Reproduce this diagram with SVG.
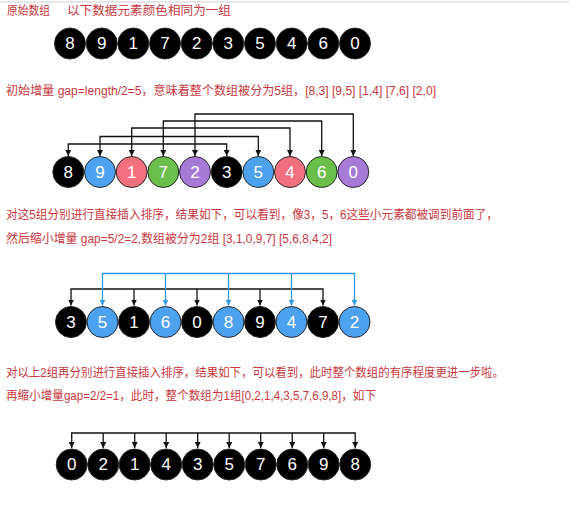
<svg xmlns="http://www.w3.org/2000/svg" width="569" height="507" viewBox="0 0 569 507">
<style>
.t{font-family:"Liberation Sans","Noto Sans CJK SC",sans-serif;font-size:12px;fill:#c7373d}
.n circle{stroke:#2a2a2a;stroke-width:1}
.n text{font-family:"Liberation Sans",Arial,sans-serif;font-size:17px;fill:#fff;text-anchor:middle;dominant-baseline:central}
.k{fill:#000}.b{fill:#4da2f0}.p{fill:#f0707f}.g{fill:#6abf4b}.v{fill:#a67bd8}
.c{fill:none;stroke:#111;stroke-width:1.3}
.cb{fill:none;stroke:#2f9be8;stroke-width:1.3}
</style>
<defs>
<marker id="ah" viewBox="0 0 10 10" refX="10" refY="5" markerWidth="6" markerHeight="6" orient="auto-start-reverse" markerUnits="userSpaceOnUse"><path d="M0,0 L10,5 L0,10 z" fill="#111"/></marker>
<marker id="ahb" viewBox="0 0 10 10" refX="10" refY="5" markerWidth="6" markerHeight="6" orient="auto-start-reverse" markerUnits="userSpaceOnUse"><path d="M0,0 L10,5 L0,10 z" fill="#2f9be8"/></marker>
</defs>
<rect width="569" height="507" fill="#fff"/>
<line x1="0" y1="2" x2="569" y2="2" stroke="#e6e6e6" stroke-width="2"/>
<g id="texts">
<text class="t" x="7" y="15" textLength="43" lengthAdjust="spacingAndGlyphs">原始数组</text>
<text class="t" x="67" y="15" textLength="164" lengthAdjust="spacingAndGlyphs">以下数据元素颜色相同为一组</text>
<text class="t" x="6" y="95" textLength="430" lengthAdjust="spacingAndGlyphs">初始增量 gap=length/2=5，意味着整个数组被分为5组，[8,3] [9,5] [1,4] [7,6] [2,0]</text>
<text class="t" x="6" y="219" textLength="492" lengthAdjust="spacingAndGlyphs">对这5组分别进行直接插入排序，结果如下，可以看到，像3，5，6这些小元素都被调到前面了，</text>
<text class="t" x="6" y="243" textLength="326" lengthAdjust="spacingAndGlyphs">然后缩小增量 gap=5/2=2,数组被分为2组 [3,1,0,9,7] [5,6,8,4,2]</text>
<text class="t" x="6" y="377" textLength="498" lengthAdjust="spacingAndGlyphs">对以上2组再分别进行直接插入排序，结果如下，可以看到，此时整个数组的有序程度更进一步啦。</text>
<text class="t" x="6" y="400" textLength="370" lengthAdjust="spacingAndGlyphs">再缩小增量gap=2/2=1，此时，整个数组为1组[0,2,1,4,3,5,7,6,9,8]，如下</text>
</g>
<g id="connectors">
<path class="c" d="M68.3,156 V144 H226.7 V156" marker-start="url(#ah)" marker-end="url(#ah)"/>
<path class="c" d="M100,156 V136.5 H258.3 V156" marker-start="url(#ah)" marker-end="url(#ah)"/>
<path class="c" d="M131.7,156 V128 H290 V156" marker-start="url(#ah)" marker-end="url(#ah)"/>
<path class="c" d="M163.3,156 V121 H321.7 V156" marker-start="url(#ah)" marker-end="url(#ah)"/>
<path class="c" d="M195,156 V114 H353.3 V156" marker-start="url(#ah)" marker-end="url(#ah)"/>
<path class="c" d="M71,305.5 V289 H323 V305.5" marker-start="url(#ah)" marker-end="url(#ah)"/>
<path class="c" d="M134,289 V305.5" marker-end="url(#ah)"/>
<path class="c" d="M197,289 V305.5" marker-end="url(#ah)"/>
<path class="c" d="M260,289 V305.5" marker-end="url(#ah)"/>
<path class="cb" d="M102.5,305.5 V273.5 H354.5 V305.5" marker-start="url(#ahb)" marker-end="url(#ahb)"/>
<path class="cb" d="M165.5,273.5 V305.5" marker-end="url(#ahb)"/>
<path class="cb" d="M228.5,273.5 V305.5" marker-end="url(#ahb)"/>
<path class="cb" d="M291.5,273.5 V305.5" marker-end="url(#ahb)"/>
<path class="c" d="M71.7,448 V433 H355.2 V448" marker-start="url(#ah)" marker-end="url(#ah)"/>
<path class="c" d="M103.2,433 V448" marker-end="url(#ah)"/>
<path class="c" d="M134.7,433 V448" marker-end="url(#ah)"/>
<path class="c" d="M166.2,433 V448" marker-end="url(#ah)"/>
<path class="c" d="M197.7,433 V448" marker-end="url(#ah)"/>
<path class="c" d="M229.2,433 V448" marker-end="url(#ah)"/>
<path class="c" d="M260.7,433 V448" marker-end="url(#ah)"/>
<path class="c" d="M292.2,433 V448" marker-end="url(#ah)"/>
<path class="c" d="M323.7,433 V448" marker-end="url(#ah)"/>
</g>
<g id="row1" class="n">
<circle class="k" cx="70" cy="43.5" r="15.5"/><text x="70" y="43.5">8</text>
<circle class="k" cx="101.7" cy="43.5" r="15.5"/><text x="101.7" y="43.5">9</text>
<circle class="k" cx="133.3" cy="43.5" r="15.5"/><text x="133.3" y="43.5">1</text>
<circle class="k" cx="165" cy="43.5" r="15.5"/><text x="165" y="43.5">7</text>
<circle class="k" cx="196.7" cy="43.5" r="15.5"/><text x="196.7" y="43.5">2</text>
<circle class="k" cx="228.3" cy="43.5" r="15.5"/><text x="228.3" y="43.5">3</text>
<circle class="k" cx="260" cy="43.5" r="15.5"/><text x="260" y="43.5">5</text>
<circle class="k" cx="291.7" cy="43.5" r="15.5"/><text x="291.7" y="43.5">4</text>
<circle class="k" cx="323.3" cy="43.5" r="15.5"/><text x="323.3" y="43.5">6</text>
<circle class="k" cx="355" cy="43.5" r="15.5"/><text x="355" y="43.5">0</text>
</g>
<g id="row2" class="n">
<circle class="k" cx="68.3" cy="172" r="15.5"/><text x="68.3" y="172">8</text>
<circle class="b" cx="100" cy="172" r="15.5"/><text x="100" y="172">9</text>
<circle class="p" cx="131.7" cy="172" r="15.5"/><text x="131.7" y="172">1</text>
<circle class="g" cx="163.3" cy="172" r="15.5"/><text x="163.3" y="172">7</text>
<circle class="v" cx="195" cy="172" r="15.5"/><text x="195" y="172">2</text>
<circle class="k" cx="226.7" cy="172" r="15.5"/><text x="226.7" y="172">3</text>
<circle class="b" cx="258.3" cy="172" r="15.5"/><text x="258.3" y="172">5</text>
<circle class="p" cx="290" cy="172" r="15.5"/><text x="290" y="172">4</text>
<circle class="g" cx="321.7" cy="172" r="15.5"/><text x="321.7" y="172">6</text>
<circle class="v" cx="353.3" cy="172" r="15.5"/><text x="353.3" y="172">0</text>
</g>
<g id="row3" class="n">
<circle class="k" cx="71" cy="322" r="15.5"/><text x="71" y="322">3</text>
<circle class="b" cx="102.5" cy="322" r="15.5"/><text x="102.5" y="322">5</text>
<circle class="k" cx="134" cy="322" r="15.5"/><text x="134" y="322">1</text>
<circle class="b" cx="165.5" cy="322" r="15.5"/><text x="165.5" y="322">6</text>
<circle class="k" cx="197" cy="322" r="15.5"/><text x="197" y="322">0</text>
<circle class="b" cx="228.5" cy="322" r="15.5"/><text x="228.5" y="322">8</text>
<circle class="k" cx="260" cy="322" r="15.5"/><text x="260" y="322">9</text>
<circle class="b" cx="291.5" cy="322" r="15.5"/><text x="291.5" y="322">4</text>
<circle class="k" cx="323" cy="322" r="15.5"/><text x="323" y="322">7</text>
<circle class="b" cx="354.5" cy="322" r="15.5"/><text x="354.5" y="322">2</text>
</g>
<g id="row4" class="n">
<circle class="k" cx="71.7" cy="464.5" r="15.5"/><text x="71.7" y="464.5">0</text>
<circle class="k" cx="103.2" cy="464.5" r="15.5"/><text x="103.2" y="464.5">2</text>
<circle class="k" cx="134.7" cy="464.5" r="15.5"/><text x="134.7" y="464.5">1</text>
<circle class="k" cx="166.2" cy="464.5" r="15.5"/><text x="166.2" y="464.5">4</text>
<circle class="k" cx="197.7" cy="464.5" r="15.5"/><text x="197.7" y="464.5">3</text>
<circle class="k" cx="229.2" cy="464.5" r="15.5"/><text x="229.2" y="464.5">5</text>
<circle class="k" cx="260.7" cy="464.5" r="15.5"/><text x="260.7" y="464.5">7</text>
<circle class="k" cx="292.2" cy="464.5" r="15.5"/><text x="292.2" y="464.5">6</text>
<circle class="k" cx="323.7" cy="464.5" r="15.5"/><text x="323.7" y="464.5">9</text>
<circle class="k" cx="355.2" cy="464.5" r="15.5"/><text x="355.2" y="464.5">8</text>
</g>
</svg>
